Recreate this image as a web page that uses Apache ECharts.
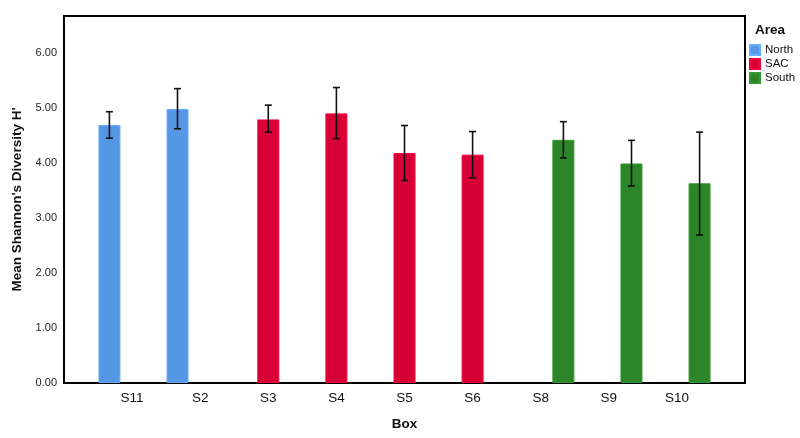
<!DOCTYPE html>
<html>
<head>
<meta charset="utf-8">
<script src="https://cdn.jsdelivr.net/npm/echarts@6/dist/echarts.min.js"></script>
<style>
html,body{margin:0;padding:0;background:#fff;}
#container{width:800px;height:438px;}
</style>
</head>
<body>
<div id="container"></div>
<script>
var boxes=['S11','S2','S3','S4','S5','S6','S8','S9','S10'];
var areas=['North','North','SAC','SAC','SAC','SAC','South','South','South'];
var means=[4.69,4.98,4.79,4.90,4.18,4.15,4.42,3.99,3.63];
var lows=[4.45,4.62,4.56,4.44,3.68,3.73,4.09,3.58,2.69];
var highs=[4.93,5.35,5.05,5.37,4.68,4.57,4.75,4.41,4.56];
var areaNames=['North','SAC','South'];
var areaColors=['#5597e4','#d60036','#2c8629'];
var yTicks=[0,1,2,3,4,5,6];

var dom=document.querySelector("#container");
var myChart=echarts.init(dom);

// one empty slot each side of the boxes, like the original axis
var cats=[''].concat(boxes).concat([' ']);

var BuildBars=function(area){
    var arr=[null];
    for(var i=0;i<boxes.length;i++){
        arr.push(areas[i]==area?means[i]:null);
    }
    arr.push(null);
    return arr;
}

var errData=[];
for(var i=0;i<boxes.length;i++){
    errData.push([i+1,lows[i],highs[i],areaNames.indexOf(areas[i])-1]);
}

var series=[];
areaNames.forEach(function(name,k){
    series.push({
        name:name,
        type:'bar',
        data:BuildBars(name),
        barWidth:22,
        barGap:'3%',
        itemStyle:{color:areaColors[k],borderColor:echarts.color.lift(areaColors[k],-0.15),borderWidth:1},
        emphasis:{disabled:true}
    });
});

series.push({
    type:'custom',
    data:errData,
    z:10,
    encode:{x:0,y:[1,2]},
    renderItem:function(params,api){
        var band=api.size([1,0])[0];
        var off=api.value(3)*band/3;
        var lo=api.coord([api.value(0),api.value(1)]);
        var hi=api.coord([api.value(0),api.value(2)]);
        var x=lo[0]+off;
        var cap=3.5;
        var st={stroke:'#111',lineWidth:1.6};
        return {type:'group',children:[
            {type:'line',shape:{x1:x,y1:hi[1],x2:x,y2:lo[1]},style:st},
            {type:'line',shape:{x1:x-cap,y1:hi[1],x2:x+cap,y2:hi[1]},style:st},
            {type:'line',shape:{x1:x-cap,y1:lo[1],x2:x+cap,y2:lo[1]},style:st}
        ]};
    }
});

var option={
    animation:false,
    textStyle:{fontFamily:'"Liberation Sans", Arial, sans-serif'},
    title:{
        text:'Area',
        left:755,
        top:23,
        padding:0,
        textStyle:{fontSize:13.5,fontWeight:'bold',color:'#111'}
    },
    legend:{
        data:areaNames,
        orient:'vertical',
        left:749,
        top:44,
        padding:0,
        itemWidth:10,
        itemHeight:10,
        itemGap:2,
        icon:'rect',
        textStyle:{fontSize:11.5,color:'#111'}
    },
    grid:{
        left:64,
        top:16,
        right:55,
        bottom:55,
        show:true,
        borderColor:'#000',
        borderWidth:2
    },
    xAxis:{
        type:'category',
        data:cats,
        boundaryGap:false,
        name:'Box',
        nameLocation:'middle',
        nameGap:34,
        nameTextStyle:{fontSize:13.5,fontWeight:'bold',color:'#111'},
        axisLine:{lineStyle:{color:'#000',width:2}},
        axisTick:{show:false},
        axisLabel:{fontSize:13.5,color:'#111',margin:8,interval:0},
        splitLine:{show:false}
    },
    yAxis:{
        type:'value',
        min:0,
        max:6.67,
        interval:1,
        name:"Mean Shannon's Diversity H'",
        nameLocation:'middle',
        nameGap:39,
        nameTextStyle:{fontSize:13.5,fontWeight:'bold',color:'#111'},
        axisLine:{show:true,lineStyle:{color:'#000',width:2}},
        axisTick:{show:false},
        splitLine:{show:false},
        axisLabel:{
            fontSize:11,
            color:'#222',
            margin:7,
            formatter:function(v){
                return yTicks.indexOf(v)>=0?v.toFixed(2):'';
            }
        }
    },
    series:series
};

myChart.setOption(option);
</script>
</body>
</html>
